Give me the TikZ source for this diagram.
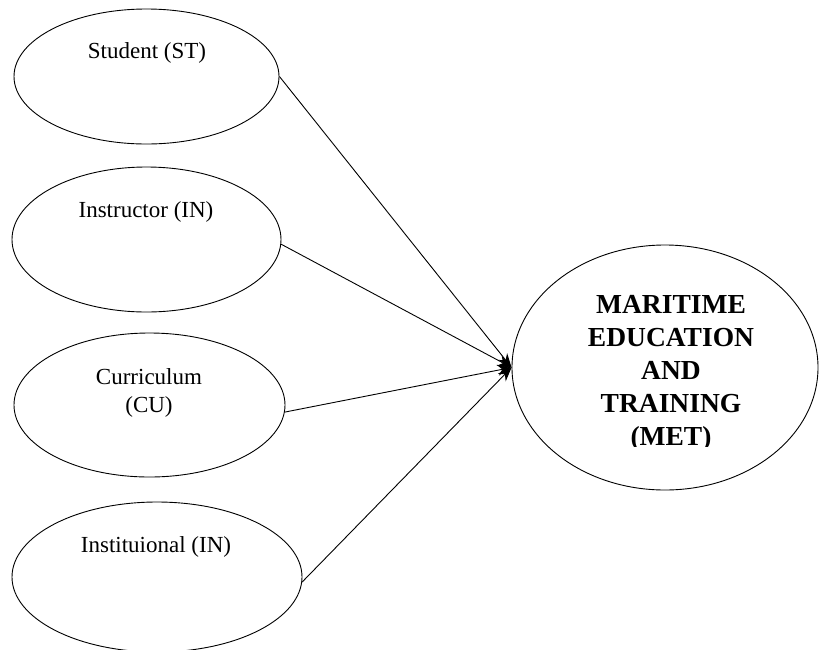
\documentclass[tikz,border=0pt]{standalone}
\usepackage{fontspec}
\setmainfont{Liberation Serif}
\usetikzlibrary{shapes.geometric,arrows.meta}
\begin{document}
\begin{tikzpicture}[x=1pt,y=-1pt,
  oval/.style={draw,ellipse,line width=0.9pt,inner sep=0pt},
  lbl/.style={font=\fontsize{23}{28.5}\selectfont,align=center,inner sep=0pt},
  big/.style={font=\fontsize{27.5}{33}\selectfont\bfseries,align=center,inner sep=0pt},
  conn/.style={line width=0.9pt,-{Stealth[length=14pt,width=11pt]}}]
\useasboundingbox (0,0) rectangle (820,649);
\node[oval,minimum width=265pt,minimum height=135pt] (st) at (146.5,76.5) {};
\node[oval,minimum width=269pt,minimum height=145pt] (ins) at (146.5,239.5) {};
\node[oval,minimum width=271pt,minimum height=144pt] (cu) at (149.5,405) {};
\node[oval,minimum width=290pt,minimum height=150pt] (inst) at (157,577) {};
\node[oval,minimum width=306pt,minimum height=245pt] (met) at (665,367.5) {};
\node[lbl] (stl) at (147,53) {Student (ST)};
\node[lbl] (insl) at (146,212) {Instructor (IN)};
\node[lbl] (cul) at (149,393) {Curriculum\\(CU)};
\node[lbl] (instl) at (156,547) {Instituional (IN)};
\begin{scope}
\clip (520,250) rectangle (810,446);
\node[big] (metl) at (671,373) {MARITIME\\EDUCATION\\AND\\TRAINING\\(MET)};
\end{scope}
\draw[conn] (st.east) -- (met.west);
\draw[conn] (ins.-2.75) -- (met.west);
\draw[conn] (cu.-3.9) -- (met.west);
\draw[conn] (inst.-2) -- (met.west);
\end{tikzpicture}
\end{document}
